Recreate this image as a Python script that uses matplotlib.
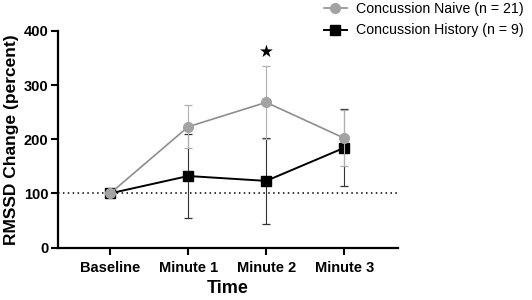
import matplotlib.pyplot as plt
from matplotlib.lines import Line2D
import numpy as np

plt.rcParams['font.family'] = ['Liberation Sans', 'DejaVu Sans']

time_labels = ['Baseline', 'Minute 1', 'Minute 2', 'Minute 3']
naive_mean = [100, 223, 268, 202]
naive_sd = [0, 40, 68, 52]
history_mean = [100, 132, 123, 184]
history_sd = [0, 78, 80, 71]
star_pos = (2, 362)

naive_col = '#8e8e8e'
naive_mk = '#a3a3a3'

x = np.arange(len(time_labels))

fig = plt.figure(figsize=(5.32, 3.0), dpi=100)
ax = fig.add_axes([0.109, 0.175, 0.639, 0.722])

ax.axhline(100, color='black', linestyle=(0, (1, 2.2)), linewidth=1.1, zorder=1)

ax.errorbar(x, history_mean, yerr=history_sd, color='black', marker='s',
            markersize=6.5, linewidth=1.4, elinewidth=0.8, ecolor='#333333',
            capsize=3, capthick=0.9, zorder=3)
ax.errorbar(x, naive_mean, yerr=naive_sd, color=naive_col, marker='o',
            markersize=7, markerfacecolor=naive_mk, markeredgecolor=naive_mk,
            linewidth=1.2, elinewidth=0.8, ecolor='#b0b0b0',
            capsize=3, capthick=0.9, zorder=4)

ax.text(star_pos[0], star_pos[1], '\u2605', ha='center', va='center',
        fontsize=12, color='black', family=['DejaVu Sans'])

ax.set_xlim(-0.67, 3.69)
ax.set_ylim(0, 400)
ax.set_yticks([0, 100, 200, 300, 400])
ax.set_xticks(x)
ax.set_xticklabels(time_labels)
for lab in ax.get_xticklabels() + ax.get_yticklabels():
    lab.set_fontweight('bold')
    lab.set_fontsize(10.5)
ax.tick_params(axis='both', width=1.5, length=5, pad=2)
ax.tick_params(axis='x', pad=5)

for side in ['top', 'right']:
    ax.spines[side].set_visible(False)
for side in ['left', 'bottom']:
    ax.spines[side].set_linewidth(1.6)

ax.set_ylabel('RMSSD Change (percent)', fontsize=12.5, fontweight='bold', labelpad=3)
ax.set_xlabel('Time', fontsize=13, fontweight='bold', labelpad=3)

handles = [
    Line2D([], [], color=naive_col, marker='o', markersize=7,
           markerfacecolor=naive_mk, markeredgecolor=naive_mk, linewidth=1.2),
    Line2D([], [], color='black', marker='s', markersize=6.5, linewidth=1.4),
]
fig.legend(handles, ['Concussion Naive (n = 21)', 'Concussion History (n = 9)'],
           loc='upper left', bbox_to_anchor=(0.609, 0.993), frameon=False,
           fontsize=10.2, handlelength=1.6, handletextpad=0.63, labelspacing=0.52,
           borderaxespad=0, borderpad=0)

fig.savefig('out.png', dpi=100)
